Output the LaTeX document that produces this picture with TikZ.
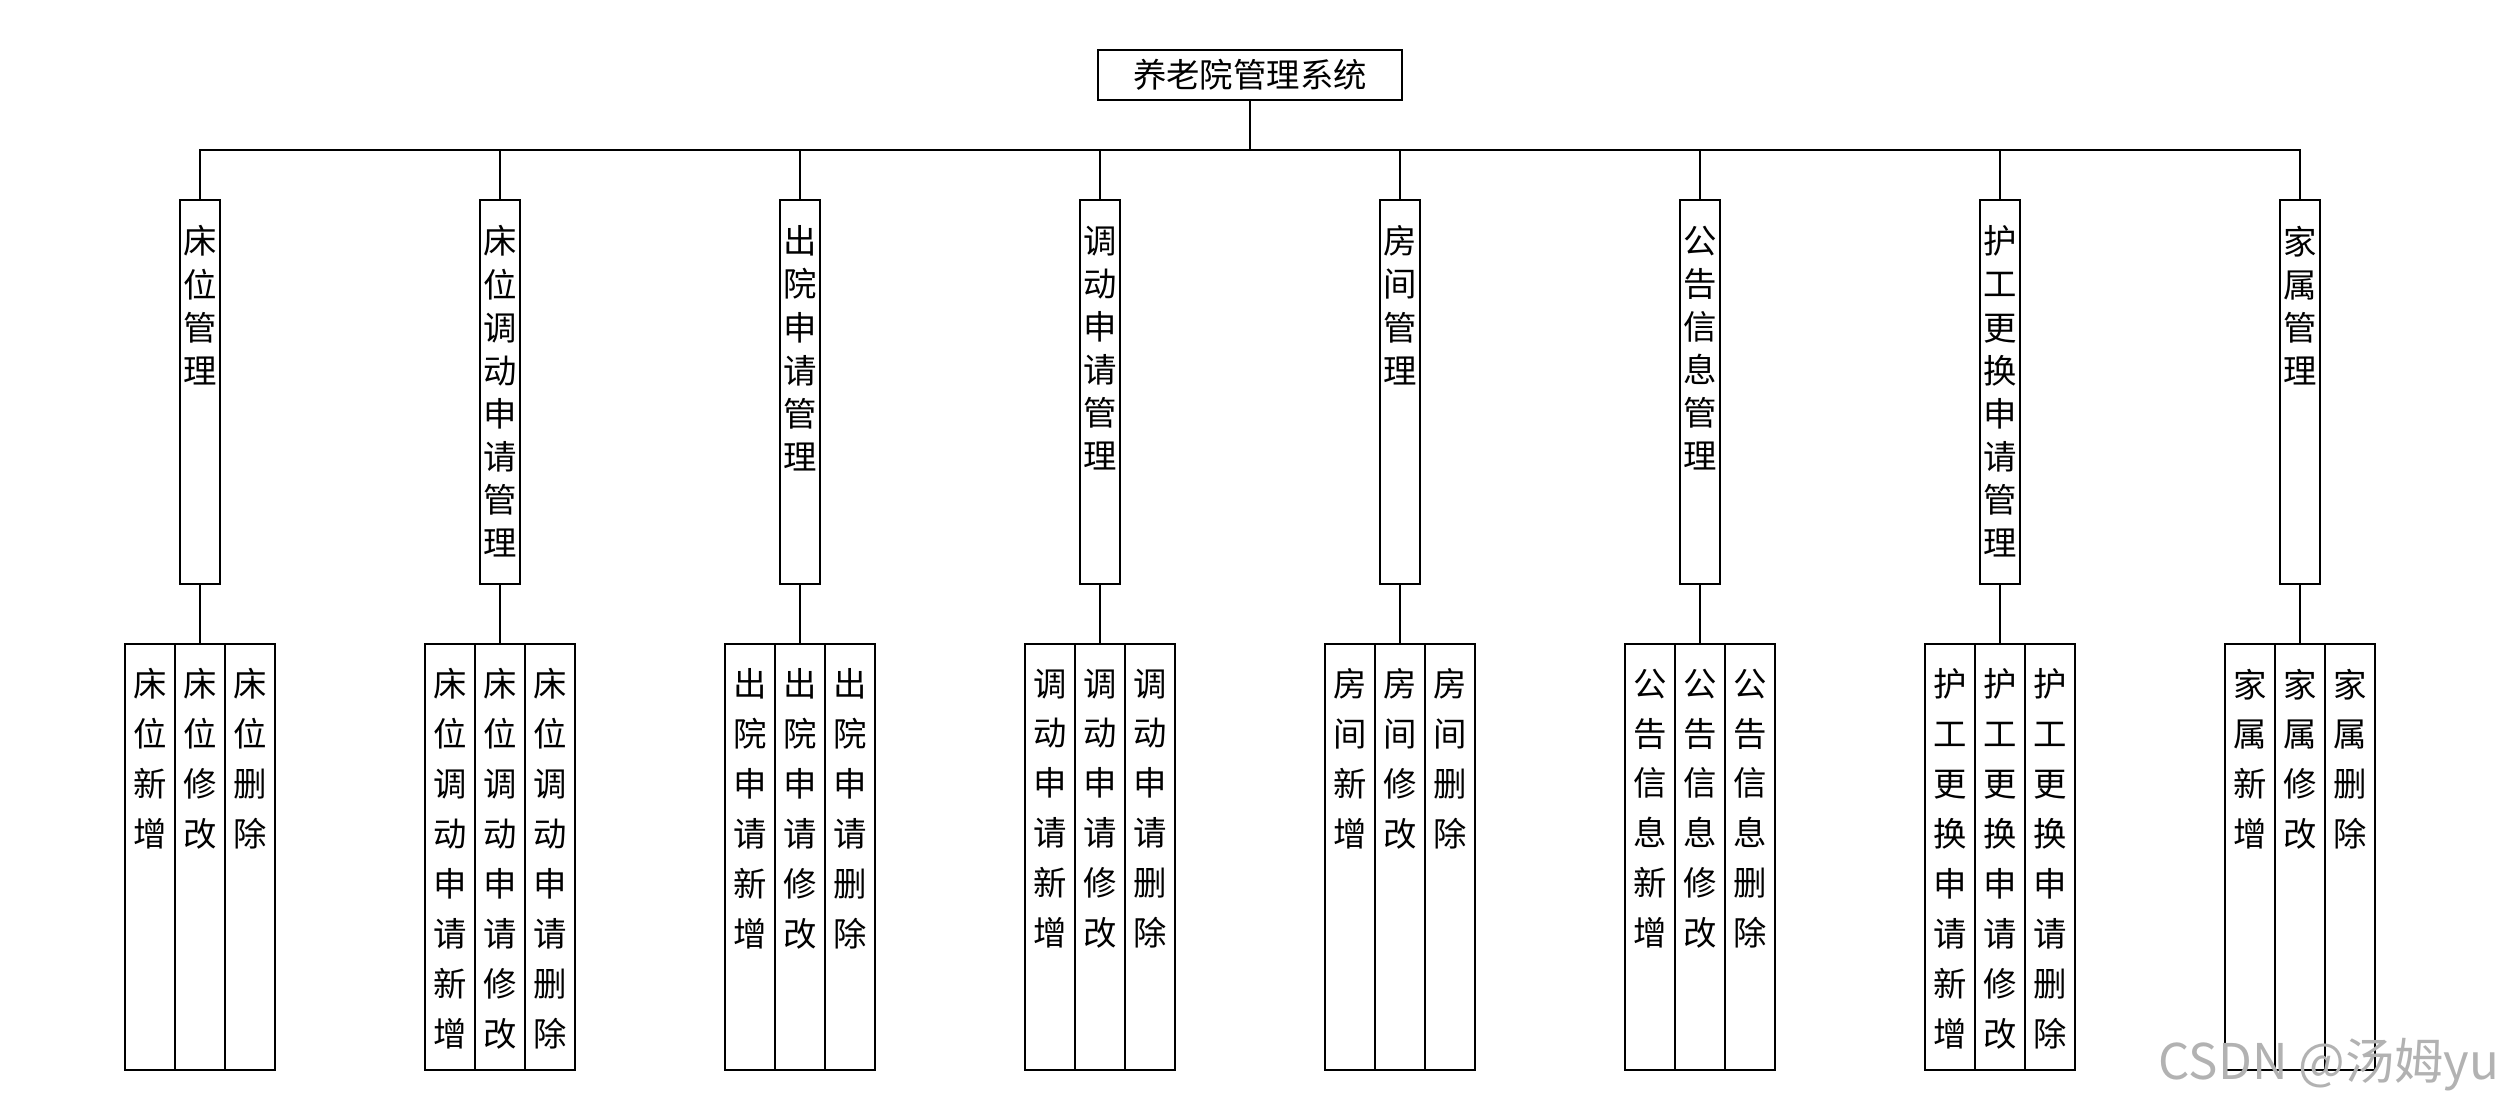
\documentclass[tikz,border=0pt]{standalone}
\usepackage{fontspec}
\newfontfamily\cjk{Noto Sans CJK SC}
\begin{document}
\begin{tikzpicture}[x=0.01cm,y=-0.01cm, line width=0.4pt,
 rootbox/.style={draw, minimum width=3.04cm, minimum height=0.5cm, inner sep=0pt, font=\cjk\fontsize{9.5}{12}\selectfont},
 midbox/.style={draw, minimum width=0.4cm, minimum height=3.84cm, inner sep=0pt},
 leafbox/.style={draw, minimum width=0.5cm, minimum height=4.26cm, inner sep=0pt},
 midtext/.style={anchor=north, inner sep=0pt, align=center, font=\cjk\fontsize{9.5}{12.27}\selectfont},
 leaftext/.style={anchor=north, inner sep=0pt, align=center, font=\cjk\fontsize{9.5}{14.2}\selectfont},
 conn/.style={draw, line width=0.4pt},
]
\useasboundingbox (0,0) rectangle (2500,1100);

\node[rootbox] (root) at (1250,75) {养老院管理系统};
\coordinate (bus) at (1250,150);

% level-1 boxes
\foreach \i/\x in {1/200,2/500,3/800,4/1100,5/1400,6/1700,7/2000,8/2300}{
  \node[midbox] (m\i) at (\x,392) {};
  \node[leafbox] (l\i a) at (\x-50,857) {};
  \node[leafbox] (l\i b) at (\x,857) {};
  \node[leafbox] (l\i c) at (\x+50,857) {};
  \draw[conn] (bus) -| (m\i.north);
  \draw[conn] (m\i.south) -- (l\i b.north);
}
\draw[conn] (root.south) -- (bus);

% level-1 texts
\node[midtext] (t1) at (200,225) {床\\位\\管\\理};
\node[midtext] (t2) at (500,225) {床\\位\\调\\动\\申\\请\\管\\理};
\node[midtext] (t3) at (800,225) {出\\院\\申\\请\\管\\理};
\node[midtext] (t4) at (1100,225) {调\\动\\申\\请\\管\\理};
\node[midtext] (t5) at (1400,225) {房\\间\\管\\理};
\node[midtext] (t6) at (1700,225) {公\\告\\信\\息\\管\\理};
\node[midtext] (t7) at (2000,225) {护\\工\\更\\换\\申\\请\\管\\理};
\node[midtext] (t8) at (2300,225) {家\\属\\管\\理};

% leaf texts
\node[leaftext] (u1a) at (150,668) {床\\位\\新\\增};
\node[leaftext] (u1b) at (200,668) {床\\位\\修\\改};
\node[leaftext] (u1c) at (250,668) {床\\位\\删\\除};

\node[leaftext] (u2a) at (450,668) {床\\位\\调\\动\\申\\请\\新\\增};
\node[leaftext] (u2b) at (500,668) {床\\位\\调\\动\\申\\请\\修\\改};
\node[leaftext] (u2c) at (550,668) {床\\位\\调\\动\\申\\请\\删\\除};

\node[leaftext] (u3a) at (750,668) {出\\院\\申\\请\\新\\增};
\node[leaftext] (u3b) at (800,668) {出\\院\\申\\请\\修\\改};
\node[leaftext] (u3c) at (850,668) {出\\院\\申\\请\\删\\除};

\node[leaftext] (u4a) at (1050,668) {调\\动\\申\\请\\新\\增};
\node[leaftext] (u4b) at (1100,668) {调\\动\\申\\请\\修\\改};
\node[leaftext] (u4c) at (1150,668) {调\\动\\申\\请\\删\\除};

\node[leaftext] (u5a) at (1350,668) {房\\间\\新\\增};
\node[leaftext] (u5b) at (1400,668) {房\\间\\修\\改};
\node[leaftext] (u5c) at (1450,668) {房\\间\\删\\除};

\node[leaftext] (u6a) at (1650,668) {公\\告\\信\\息\\新\\增};
\node[leaftext] (u6b) at (1700,668) {公\\告\\信\\息\\修\\改};
\node[leaftext] (u6c) at (1750,668) {公\\告\\信\\息\\删\\除};

\node[leaftext] (u7a) at (1950,668) {护\\工\\更\\换\\申\\请\\新\\增};
\node[leaftext] (u7b) at (2000,668) {护\\工\\更\\换\\申\\请\\修\\改};
\node[leaftext] (u7c) at (2050,668) {护\\工\\更\\换\\申\\请\\删\\除};

\node[leaftext] (u8a) at (2250,668) {家\\属\\新\\增};
\node[leaftext] (u8b) at (2300,668) {家\\属\\修\\改};
\node[leaftext] (u8c) at (2350,668) {家\\属\\删\\除};

% watermark
\node[anchor=south east, inner sep=0pt, text=black!30, font=\cjk\fontsize{14}{16}\selectfont] (wm) at (2500,1092) {CSDN @汤姆yu};
\end{tikzpicture}
\end{document}
